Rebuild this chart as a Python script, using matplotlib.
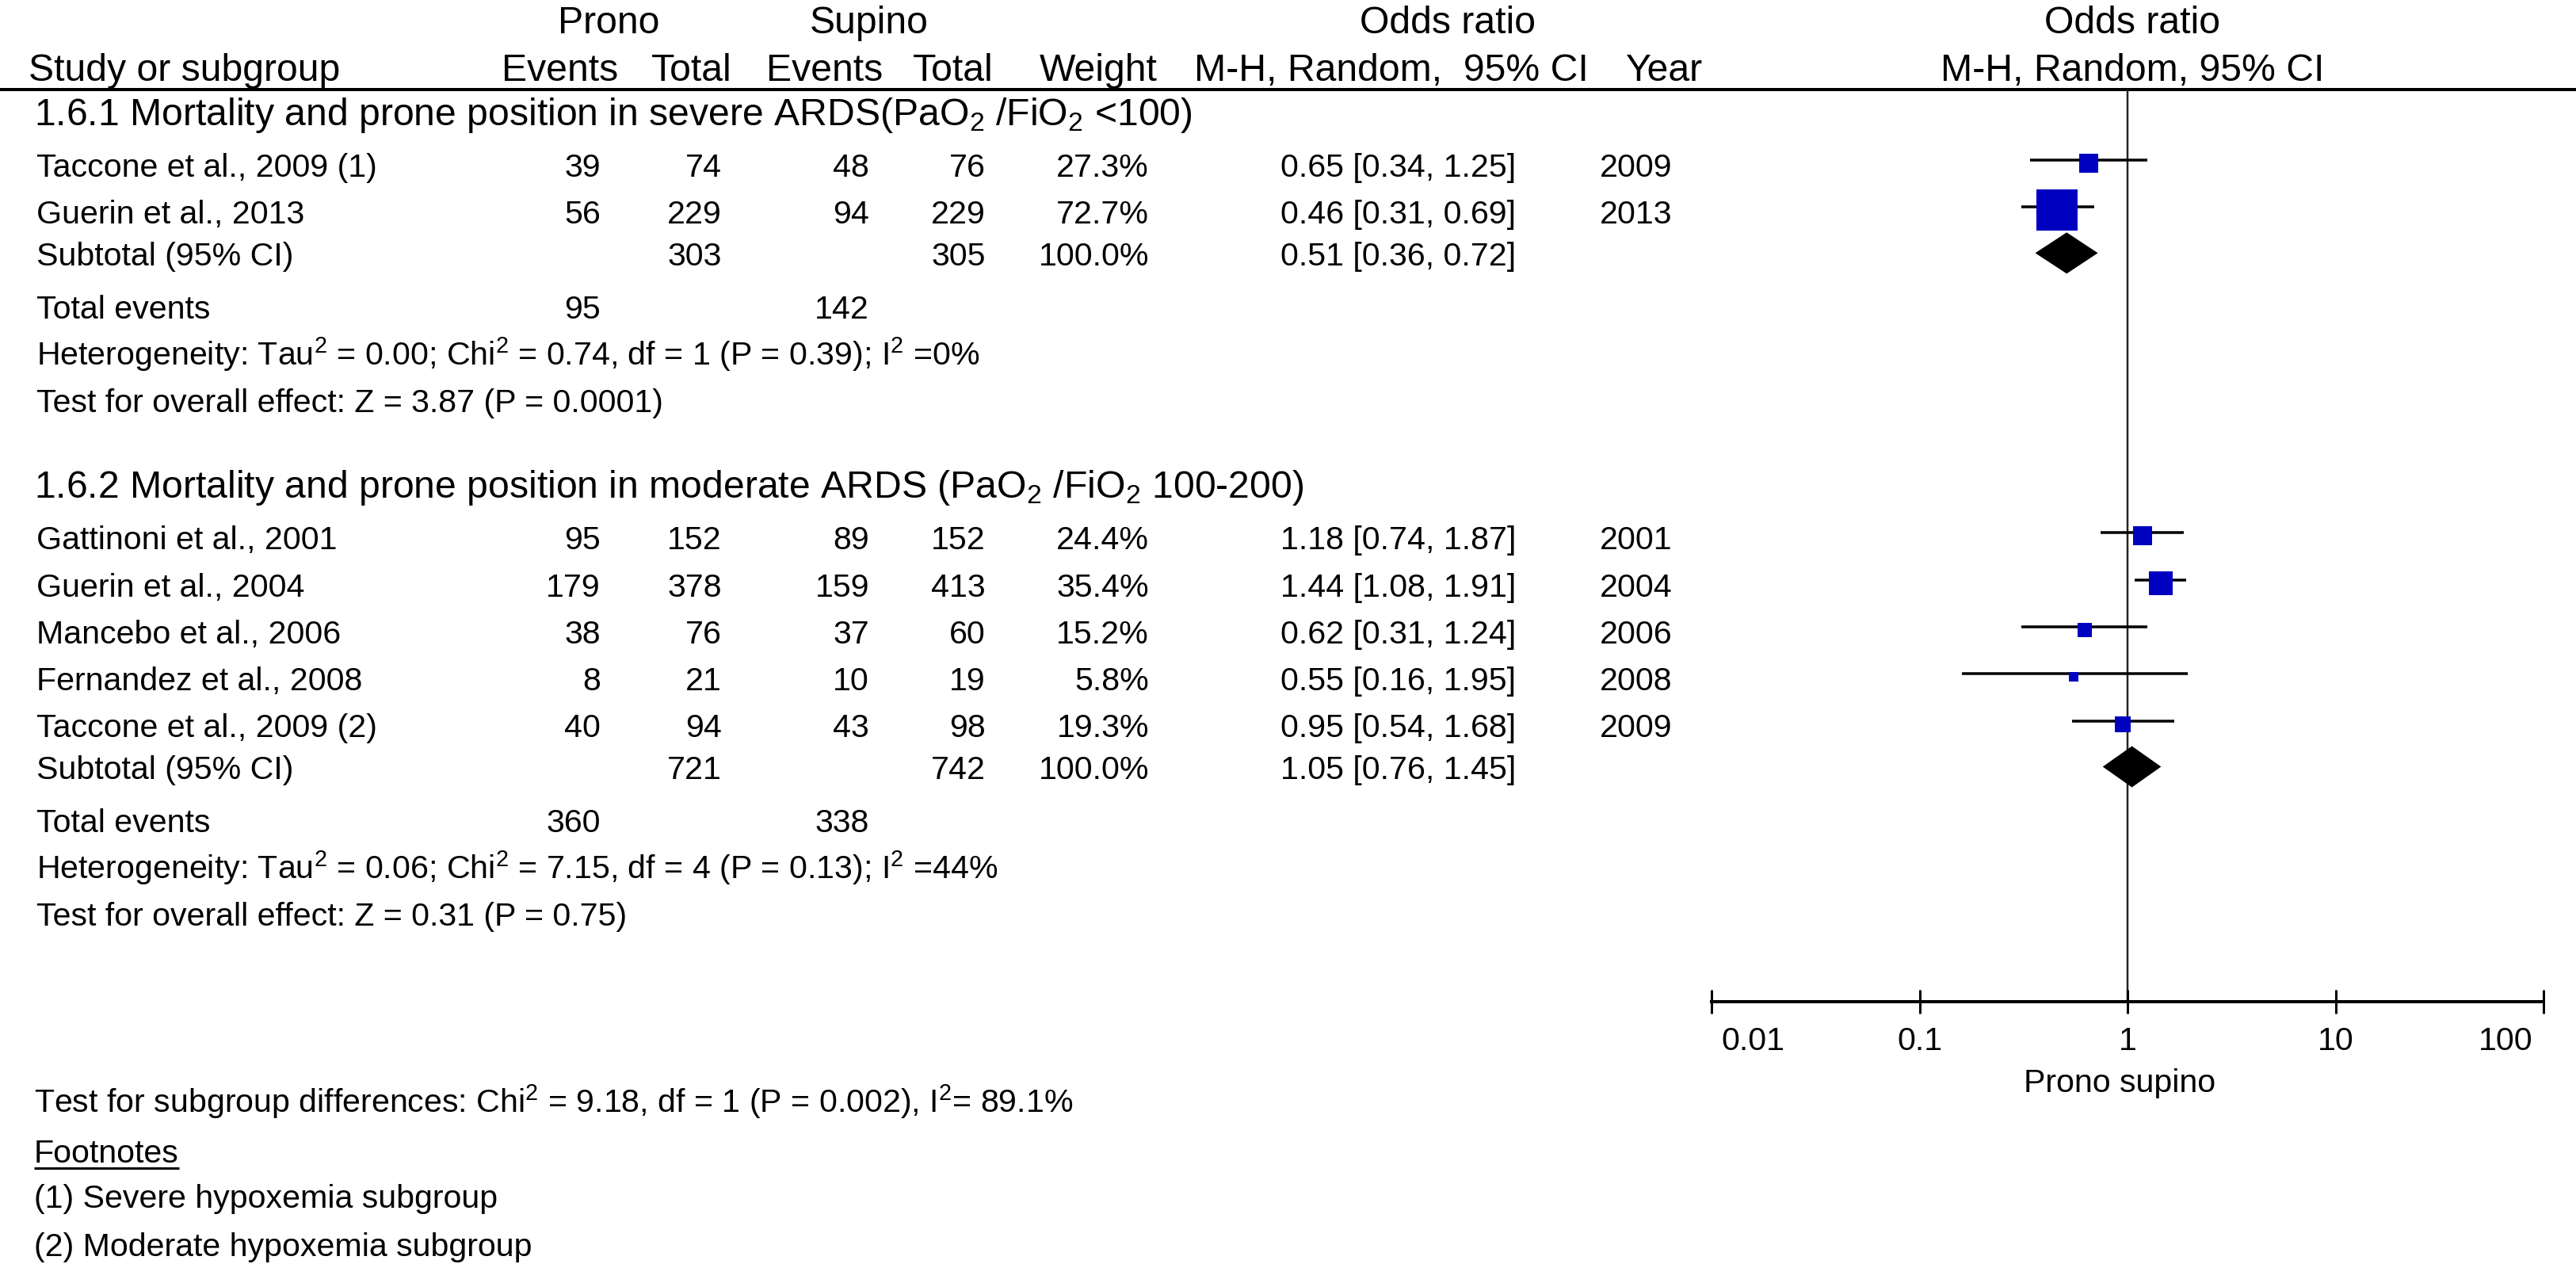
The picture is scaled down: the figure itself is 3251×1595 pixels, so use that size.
import matplotlib

matplotlib.use("Agg")

import matplotlib.pyplot as plt
from matplotlib.patches import Polygon
from matplotlib.ticker import NullLocator


# --- data -------------------------------------------------------------

SUBGROUP_TITLES: list[str] = [
    "1.6.1 Mortality and prone position in severe ARDS(PaO$_2$ /FiO$_2$ <100)",
    "1.6.2 Mortality and prone position in moderate ARDS (PaO$_2$ /FiO$_2$ 100-200)",
]

STUDIES: list[list[str]] = [
    ["Taccone et al., 2009 (1)", "Guerin et al., 2013"],
    [
        "Gattinoni et al., 2001",
        "Guerin et al., 2004",
        "Mancebo et al., 2006",
        "Fernandez et al., 2008",
        "Taccone et al., 2009 (2)",
    ],
]

PRONO_EVENTS: list[list[int]] = [[39, 56], [95, 179, 38, 8, 40]]
PRONO_TOTAL: list[list[int]] = [[74, 229], [152, 378, 76, 21, 94]]
SUPINO_EVENTS: list[list[int]] = [[48, 94], [89, 159, 37, 10, 43]]
SUPINO_TOTAL: list[list[int]] = [[76, 229], [152, 413, 60, 19, 98]]
WEIGHTS: list[list[float]] = [[27.3, 72.7], [24.4, 35.4, 15.2, 5.8, 19.3]]
ODDS_RATIO: list[list[float]] = [[0.65, 0.46], [1.18, 1.44, 0.62, 0.55, 0.95]]
CI_LOW: list[list[float]] = [[0.34, 0.31], [0.74, 1.08, 0.31, 0.16, 0.54]]
CI_HIGH: list[list[float]] = [[1.25, 0.69], [1.87, 1.91, 1.24, 1.95, 1.68]]
YEARS: list[list[int]] = [[2009, 2013], [2001, 2004, 2006, 2008, 2009]]

SUBTOTAL_PRONO: list[int] = [303, 721]
SUBTOTAL_SUPINO: list[int] = [305, 742]
SUBTOTAL_OR: list[float] = [0.51, 1.05]
SUBTOTAL_LOW: list[float] = [0.36, 0.76]
SUBTOTAL_HIGH: list[float] = [0.72, 1.45]
TOTAL_EVENTS_PRONO: list[int] = [95, 360]
TOTAL_EVENTS_SUPINO: list[int] = [142, 338]

HETEROGENEITY: list[str] = [
    "Heterogeneity: Tau$^2$ = 0.00; Chi$^2$ = 0.74, df = 1 (P = 0.39); I$^2$ =0%",
    "Heterogeneity: Tau$^2$ = 0.06; Chi$^2$ = 7.15, df = 4 (P = 0.13); I$^2$ =44%",
]
OVERALL_EFFECT: list[str] = [
    "Test for overall effect: Z = 3.87 (P = 0.0001)",
    "Test for overall effect: Z = 0.31 (P = 0.75)",
]

SUBGROUP_DIFF: str = (
    "Test for subgroup differences: Chi$^2$ = 9.18, df = 1 (P = 0.002), I$^2$= 89.1%"
)
FOOTNOTES: list[str] = ["(1) Severe hypoxemia subgroup", "(2) Moderate hypoxemia subgroup"]

AXIS_TICKS: list[float] = [0.01, 0.1, 1, 10, 100]
AXIS_TICK_LABELS: list[str] = ["0.01", "0.1", "1", "10", "100"]


# --- styling ----------------------------------------------------------

W, H = 3251, 1595
PX = 0.72  # points per pixel at dpi 100

HEADER_FS = 34.7
TITLE_FS = 34.7
ROW_FS = 29.6

BLUE = "#0000c0"

# column anchors (pixels)
X_NAME = 46
X_PRONO_EV = 758
X_PRONO_TOT = 911
X_SUP_EV = 1097
X_SUP_TOT = 1244
X_WEIGHT = 1450
X_CI = 1616
X_YEAR = 2065

# forest panel (pixels)
FX0, FX1 = 2160, 3210
FY0, FY1 = 113, 1264

plt.rcParams["font.family"] = ["Liberation Sans", "DejaVu Sans"]
plt.rcParams["mathtext.fontset"] = "custom"
plt.rcParams["mathtext.rm"] = "Liberation Sans"
plt.rcParams["mathtext.it"] = "Liberation Sans:italic"
plt.rcParams["mathtext.bf"] = "Liberation Sans:bold"


def txt(x, y, s, size=ROW_FS, ha="left"):
    return ax.text(x, y, s, fontsize=size, ha=ha, va="baseline", color="black")


def fmt_ci(est: float, lo: float, hi: float) -> str:
    return f"{est:.2f} [{lo:.2f}, {hi:.2f}]"


def draw_subgroup(y: float, g: int) -> float:
    """Draws one subgroup block starting at baseline y, returns next baseline."""
    txt(43, y, SUBGROUP_TITLES[g], size=TITLE_FS)
    y += 65
    for i, name in enumerate(STUDIES[g]):
        txt(X_NAME, y, name)
        txt(X_PRONO_EV, y, str(PRONO_EVENTS[g][i]), ha="right")
        txt(X_PRONO_TOT, y, str(PRONO_TOTAL[g][i]), ha="right")
        txt(X_SUP_EV, y, str(SUPINO_EVENTS[g][i]), ha="right")
        txt(X_SUP_TOT, y, str(SUPINO_TOTAL[g][i]), ha="right")
        txt(X_WEIGHT, y, f"{WEIGHTS[g][i]:.1f}%", ha="right")
        txt(X_CI, y, fmt_ci(ODDS_RATIO[g][i], CI_LOW[g][i], CI_HIGH[g][i]))
        txt(X_YEAR, y, str(YEARS[g][i]), ha="center")

        fax.plot(
            [CI_LOW[g][i], CI_HIGH[g][i]], [y - 21, y - 21],
            color="black", lw=3.5 * PX, solid_capstyle="butt", zorder=2,
        )
        side = 8.5 + 0.6 * WEIGHTS[g][i]
        fax.plot(
            ODDS_RATIO[g][i], y - 17, marker="s", ms=side * PX,
            color=BLUE, mew=0, zorder=3,
        )
        y += 59.3
    y += 53 - 59.3

    txt(X_NAME, y, "Subtotal (95% CI)")
    txt(X_PRONO_TOT, y, str(SUBTOTAL_PRONO[g]), ha="right")
    txt(X_SUP_TOT, y, str(SUBTOTAL_SUPINO[g]), ha="right")
    txt(X_WEIGHT, y, "100.0%", ha="right")
    txt(X_CI, y, fmt_ci(SUBTOTAL_OR[g], SUBTOTAL_LOW[g], SUBTOTAL_HIGH[g]))
    yc = y - 16
    diamond = Polygon(
        [
            (SUBTOTAL_LOW[g], yc),
            (SUBTOTAL_OR[g], yc - 26),
            (SUBTOTAL_HIGH[g], yc),
            (SUBTOTAL_OR[g], yc + 26),
        ],
        closed=True, facecolor="black", edgecolor="black", lw=0, zorder=3,
    )
    fax.add_patch(diamond)

    y += 66.5
    txt(X_NAME, y, "Total events")
    txt(X_PRONO_EV, y, str(TOTAL_EVENTS_PRONO[g]), ha="right")
    txt(X_SUP_EV, y, str(TOTAL_EVENTS_SUPINO[g]), ha="right")
    y += 59
    txt(X_NAME, y, HETEROGENEITY[g])
    y += 59.5
    txt(X_NAME, y, OVERALL_EFFECT[g])
    return y + 108


fig = plt.figure(figsize=(W / 100, H / 100), dpi=100)
ax = fig.add_axes([0, 0, 1, 1])
ax.set_xlim(0, W)
ax.set_ylim(H, 0)
ax.axis("off")

fax = fig.add_axes([FX0 / W, (H - FY1) / H, (FX1 - FX0) / W, (FY1 - FY0) / H])
fax.patch.set_alpha(0)
fax.set_xscale("log")
fax.set_xlim(AXIS_TICKS[0], AXIS_TICKS[-1])
fax.set_ylim(FY1, FY0)
for side_name in ["top", "left", "right"]:
    fax.spines[side_name].set_visible(False)
fax.spines["bottom"].set_linewidth(4 * PX)
fax.set_yticks([])
fax.set_xticks(AXIS_TICKS)
fax.set_xticklabels([])
fax.xaxis.set_minor_locator(NullLocator())
fax.tick_params(axis="x", direction="inout", length=30 * PX, width=3 * PX)
fax.axvline(1, color="#222222", lw=2.5 * PX, zorder=1)

# tick labels, the outer ones pulled inward like the original
offsets = [9, 0, 0, 0, -10]
aligns = ["left", "center", "center", "center", "right"]
for tick, label, dx, ha in zip(AXIS_TICKS, AXIS_TICK_LABELS, offsets, aligns):
    fax.annotate(
        label, xy=(tick, 1325), xycoords="data", xytext=(dx, 0),
        textcoords="offset points", ha=ha, va="baseline",
        fontsize=ROW_FS, annotation_clip=False,
    )
fax.text(0.92, 1378, "Prono supino", fontsize=ROW_FS, ha="center",
         va="baseline", clip_on=False)

# header
txt(768, 42, "Prono", size=HEADER_FS, ha="center")
txt(1097, 42, "Supino", size=HEADER_FS, ha="center")
txt(1827, 42, "Odds ratio", size=HEADER_FS, ha="center")
txt(2691, 42, "Odds ratio", size=HEADER_FS, ha="center")
txt(36, 102, "Study or subgroup", size=HEADER_FS)
txt(707, 102, "Events", size=HEADER_FS, ha="center")
txt(873, 102, "Total", size=HEADER_FS, ha="center")
txt(1041, 102, "Events", size=HEADER_FS, ha="center")
txt(1203, 102, "Total", size=HEADER_FS, ha="center")
txt(1386, 102, "Weight", size=HEADER_FS, ha="center")
txt(1756, 102, "M-H, Random,  95% CI", size=HEADER_FS, ha="center")
txt(2101, 102, "Year", size=HEADER_FS, ha="center")
txt(2691, 102, "M-H, Random, 95% CI", size=HEADER_FS, ha="center")
ax.plot([0, W], [113, 113], color="black", lw=4 * PX, solid_capstyle="butt")

y = 158
for g in range(len(STUDIES)):
    y = draw_subgroup(y, g)

txt(43, 1404, SUBGROUP_DIFF)
foot = txt(43, 1467, "Footnotes")
txt(43, 1524, FOOTNOTES[0])
txt(43, 1585, FOOTNOTES[1])

# underline "Footnotes"
fig.canvas.draw()
bb = foot.get_window_extent(fig.canvas.get_renderer())
ax.plot([bb.x0, bb.x1], [1474, 1474], color="black", lw=3 * PX,
        solid_capstyle="butt")

fig.savefig("out.png", dpi=100, facecolor="white")
